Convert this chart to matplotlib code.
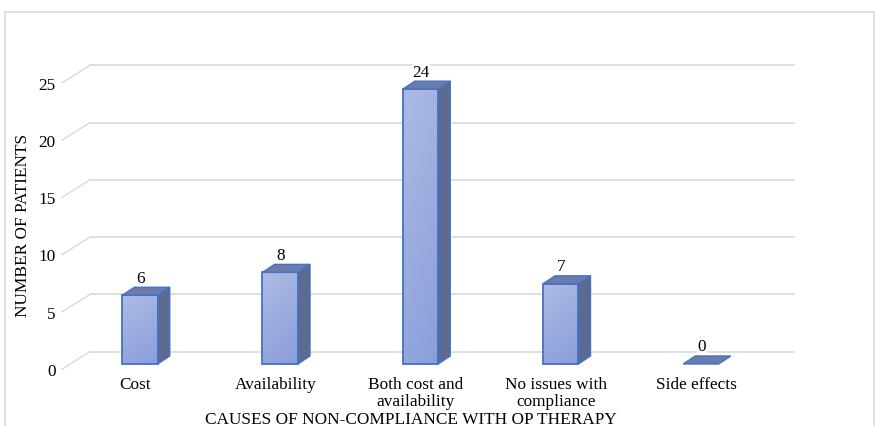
import numpy as np
import matplotlib.pyplot as plt
from matplotlib.patches import Polygon, Rectangle
from matplotlib.colors import LinearSegmentedColormap

plt.rcParams['font.family'] = ['Liberation Serif', 'DejaVu Serif']

causes = ['Cost', 'Availability', 'Both cost and\navailability',
          'No issues with\ncompliance', 'Side effects']
patients = [6, 8, 24, 7, 0]
yticks = [0, 5, 10, 15, 20, 25]

# pseudo-3D geometry, in data units (x = category index, y = patients)
bar_w = 0.253
dep_x, dep_y = 0.086, 0.70          # bar depth offset
wall_x0, wall_x1 = -0.357, 4.663    # back wall extent
wall_dy = 1.08                      # back wall raised above front floor
side_x0 = -0.556                    # front end of the side wall lines

edge = '#4472c4'
side_col = '#5c6a90'
top_col = '#6b7bab'
grid_col = '#d9d9d9'
front_cmap = LinearSegmentedColormap.from_list('front', ['#adbae3', '#8a9edb'])
fs = 12.4

fig = plt.figure(figsize=(8.75, 4.26), dpi=100)
ax = fig.add_axes([0, 0, 1, 1])
ax.axis('off')

# outer chart border
fig.patches.append(Rectangle((5 / 875, -0.05), 869 / 875, 1 - 12 / 426 + 0.05,
                             transform=fig.transFigure, fill=False,
                             ec='#d9d9d9', lw=1.2))

# back wall gridlines plus the diagonal side-wall strokes
for t in yticks:
    ax.plot([wall_x0, wall_x1], [t + wall_dy, t + wall_dy], color=grid_col,
            lw=1.2, zorder=1)
    ax.plot([side_x0, wall_x0], [t - 0.45, t + wall_dy], color=grid_col,
            lw=1.0, zorder=1)
    ax.text(-0.60, t - 0.68, str(t), ha='right', va='center', fontsize=fs)

grad = np.linspace(0, 1, 64).reshape(-1, 1) + np.linspace(0, 0.35, 16)
grad = grad / grad.max()

for i, (name, v) in enumerate(zip(causes, patients)):
    x0, x1 = i - bar_w / 2, i + bar_w / 2
    if v > 0:
        ax.imshow(grad, cmap=front_cmap, extent=[x0, x1, 0, v], aspect='auto',
                  origin='upper', zorder=3, interpolation='bilinear')
        ax.add_patch(Rectangle((x0, 0), bar_w, v, fill=False, ec=edge,
                               lw=1.3, zorder=4))
        ax.add_patch(Polygon([(x1, 0), (x1 + dep_x, dep_y),
                              (x1 + dep_x, v + dep_y), (x1, v)],
                             fc=side_col, ec=edge, lw=1.0, zorder=3))
    ax.add_patch(Polygon([(x0, v), (x1, v), (x1 + dep_x, v + dep_y),
                          (x0 + dep_x, v + dep_y)],
                         fc=top_col, ec=edge, lw=1.0, zorder=4))
    # value label knocks out the gridline behind it but sits under the bars
    ax.text(i + 0.005, v + dep_y + 0.75, str(v), ha='center',
            va='center', fontsize=fs, zorder=2,
            bbox=dict(fc='white', ec='none', pad=0.5))
    ax.text(i - 0.035, -1.15, name, ha='center', va='top', fontsize=fs,
            linespacing=1.05)

ax.text(1.93, -4.85, 'CAUSES OF NON-COMPLIANCE WITH OP THERAPY',
        ha='center', va='center', fontsize=fs)
ax.text(-0.834, 12.14, 'NUMBER OF PATIENTS', rotation=90,
        ha='center', va='center', fontsize=fs)

ax.set_xlim(-0.998, 5.241)
ax.set_ylim(-5.415, 31.79)

fig.savefig('out.png', dpi=100)
